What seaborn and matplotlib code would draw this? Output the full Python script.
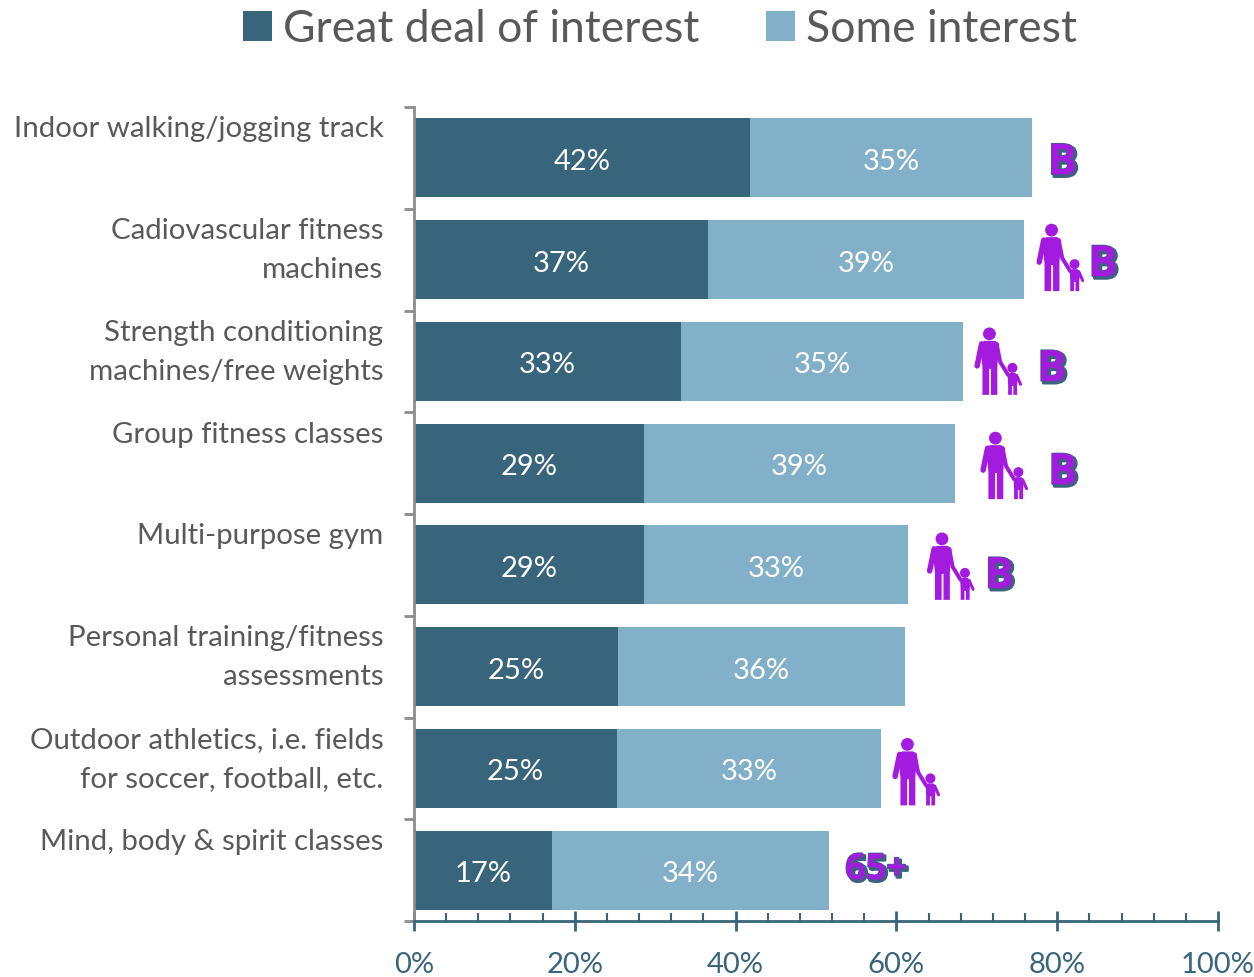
import matplotlib
matplotlib.use("Agg")
import matplotlib.pyplot as plt
import matplotlib.patheffects as pe
from matplotlib.lines import Line2D
from matplotlib.patches import Circle, Polygon
from matplotlib.ticker import MultipleLocator, PercentFormatter
from matplotlib.transforms import Affine2D
import seaborn as sns

categories = [
    "Indoor walking/jogging track",
    "Cadiovascular fitness\nmachines",
    "Strength conditioning\nmachines/free weights",
    "Group fitness classes",
    "Multi-purpose gym",
    "Personal training/fitness\nassessments",
    "Outdoor athletics, i.e. fields\nfor soccer, football, etc.",
    "Mind, body & spirit classes",
]
great_deal = [41.8, 36.6, 33.2, 28.6, 28.6, 25.4, 25.2, 17.2]
some = [35.1, 39.3, 35.1, 38.7, 32.8, 35.7, 32.9, 34.4]
great_labels = ["42%", "37%", "33%", "29%", "29%", "25%", "25%", "17%"]
some_labels = ["35%", "39%", "35%", "39%", "33%", "36%", "33%", "34%"]
series_names = ["Great deal of interest", "Some interest"]

# callouts to the right of the bars: category index, px from bar end, px from bar centre
icon_cats = [1, 2, 3, 4, 6]
icon_gaps = [12, 11, 25, 19, 11]
icon_drops = [-35.5, -33.5, -31, -32, -30]
badge_cats = [0, 1, 2, 3, 4, 7]
badge_texts = ["B", "B", "B", "B", "B", "65+"]
badge_gaps = [30, 78.5, 88.5, 107.5, 91.5, 47]
badge_drops = [5, 5, 8, 9.5, 11.5, 0]

W, H = 1254, 977
DARK = "#38657B"
LIGHT = "#82B0C8"
GREY = "#595959"
PURPLE = "#A41BE0"

sns.set_theme(style="white")
plt.rcParams["font.family"] = ["Lato", "DejaVu Sans"]

fig = plt.figure(figsize=(W / 100, H / 100), dpi=100)
ax = fig.add_axes([414 / W, 1 - 921 / H, 804 / W, 814 / H])

sns.barplot(x=great_deal, y=categories, color=DARK, saturation=1, width=0.776,
            label=series_names[0], ax=ax, linewidth=0)
sns.barplot(x=some, y=categories, left=great_deal, color=LIGHT, saturation=1, width=0.776,
            label=series_names[1], ax=ax, linewidth=0)
ax.get_legend().remove() if ax.get_legend() else None

ax.set_xlim(0, 100)
ax.set_ylim(7.5, -0.5)
ax.set_xlabel("")
ax.set_ylabel("")

# axes
for side in ["top", "right"]:
    ax.spines[side].set_visible(False)
ax.spines["left"].set_color("#8C8C8C")
ax.spines["left"].set_linewidth(2)
ax.spines["bottom"].set_color(DARK)
ax.spines["bottom"].set_linewidth(2)

ax.xaxis.set_major_locator(MultipleLocator(20))
ax.xaxis.set_minor_locator(MultipleLocator(4))
ax.xaxis.set_major_formatter(PercentFormatter(100, decimals=0))
ax.tick_params(axis="x", which="major", direction="inout", length=14, width=2, color=DARK,
               labelcolor=DARK, labelsize=21, pad=15.5, bottom=True)
ax.tick_params(axis="x", which="minor", direction="in", length=5.5, width=1.5, color=DARK, bottom=True)

ax.set_yticks([i - 0.5 for i in range(len(categories) + 1)])
ax.set_yticklabels([])
ax.tick_params(axis="y", which="major", direction="out", length=7.5, width=2, color="#8C8C8C", left=True)

# category labels sit a little above the bar centre, one liners higher still
for i, name in enumerate(categories):
    off = 6.5 if "\n" in name else 20.5
    ax.annotate(name, xy=(0, i), xytext=(-22, off), textcoords="offset points",
                ha="right", va="center", ma="right", fontsize=21.2, color=GREY,
                linespacing=1.63, annotation_clip=False)

# values inside the bars
for i in range(len(categories)):
    ax.text(great_deal[i] / 2, i + 0.04, great_labels[i], ha="center", va="center", color="white", fontsize=21)
    ax.text(great_deal[i] + some[i] / 2, i + 0.04, some_labels[i], ha="center", va="center", color="white", fontsize=21)

# legend
handles, labels = ax.get_legend_handles_labels()
fig.legend(handles, labels, loc="upper center", bbox_to_anchor=(660 / W, 1 + 31 / H), ncol=2, frameon=False,
           fontsize=32, labelcolor=GREY, handlelength=0.66, handleheight=0.66,
           handletextpad=0.25, columnspacing=1.5)


def draw_icon(x0, y0):
    # parent and child figure, drawn in pixels from the top left corner of the icon
    tr = Affine2D().translate(x0, y0).scale(1, -1).translate(0, H)
    shapes = [
        Circle((15.3, 6), 6.4),
        Polygon([(5.5, 16), (10, 13), (21, 13), (25, 16), (23.2, 39), (23.2, 67), (16.8, 67), (16.8, 41),
                 (15, 41), (15, 67), (8.3, 67), (8.3, 39)], closed=True),
        Circle((38.3, 40), 5),
        Polygon([(33.5, 47), (36, 45), (41, 45), (44, 48), (43, 57), (43, 67), (39.2, 67), (39.2, 58),
                 (37.8, 58), (37.8, 67), (34, 67), (34, 57)], closed=True),
    ]
    for s in shapes:
        s.set(transform=tr, facecolor=PURPLE, edgecolor="none", clip_on=False)
        fig.add_artist(s)
    strokes = [
        ([(7.5, 16), (3, 38)], 5.5),
        ([(22.5, 16), (26, 34), (34, 47)], 4),
        ([(42.5, 47.5), (46.5, 56.5)], 3),
    ]
    for pts, lw in strokes:
        xs, ys = zip(*pts)
        fig.add_artist(Line2D(xs, ys, transform=tr, color=PURPLE, lw=lw * 0.72,
                              solid_capstyle="round", solid_joinstyle="round", clip_on=False))


ends = [g + s for g, s in zip(great_deal, some)]
for cat, gap, drop in zip(icon_cats, icon_gaps, icon_drops):
    bar_end = ax.transData.transform((ends[cat], cat))
    draw_icon(bar_end[0] + gap, H - bar_end[1] + drop)

for cat, text, gap, drop in zip(badge_cats, badge_texts, badge_gaps, badge_drops):
    size = 31 if text == "B" else 26
    ax.annotate(text, xy=(ends[cat], cat), xytext=(gap * 0.72, -drop * 0.72), textcoords="offset points",
                ha="center", va="center", fontsize=size, fontweight="bold", family="Open Sans",
                color=PURPLE, annotation_clip=False,
                path_effects=[pe.Stroke(linewidth=2, foreground=DARK, offset=(1.6, -1.6)),
                              pe.Stroke(linewidth=1, foreground=DARK), pe.Normal()])

fig.savefig("out.png", dpi=100)
